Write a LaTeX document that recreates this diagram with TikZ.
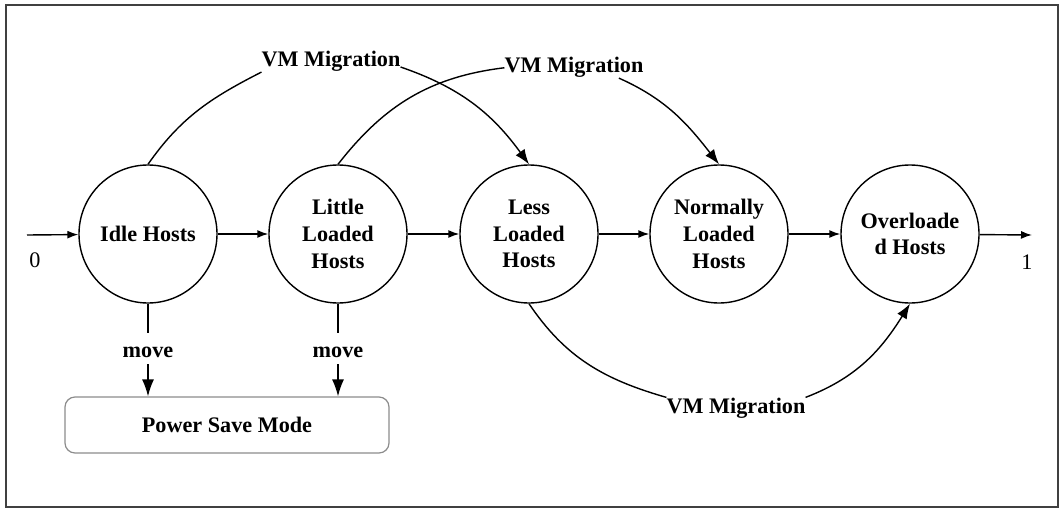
\documentclass[tikz,border=0pt]{standalone}
\usepackage{fontspec}
\setmainfont{LiberationSerif}[Extension=.ttf,UprightFont=*-Regular,BoldFont=*-Bold,ItalicFont=*-Italic,BoldItalicFont=*-BoldItalic]
\usetikzlibrary{arrows.meta}
\begin{document}
\begin{tikzpicture}[x=1pt,y=-1pt,
  host/.style={circle,draw,line width=1.4pt,minimum size=138pt,inner sep=0pt,align=center,
    font=\fontsize{22.2}{26.7}\selectfont\bfseries},
  lbl/.style={inner sep=0pt,font=\fontsize{22.2}{26.7}\selectfont\bfseries},
  num/.style={inner sep=0pt,font=\fontsize{22.2}{26.7}\selectfont},
  flow/.style={line width=1.4pt,-{Latex[length=11pt,width=8pt]}},
  mig/.style={line width=1.4pt,-{Latex[length=15pt,width=11pt]}},
  plain/.style={line width=1.4pt},
  movearr/.style={line width=1.4pt,-{Latex[length=17pt,width=12pt]}},
  psbox/.style={draw=black!45,line width=1.2pt,rounded corners=10pt,minimum width=324pt,
    minimum height=56pt,inner sep=0pt,font=\fontsize{22.2}{26.7}\selectfont\bfseries},
  movelbl/.style={inner xsep=0pt,inner ysep=7pt,text height=17pt,text depth=0pt,
    font=\fontsize{22.2}{26.7}\selectfont\bfseries}
]
\useasboundingbox (0,0) rectangle (1062,508);
\draw[line width=2pt,black!75] (6,5) rectangle (1058,506.5);

\node[host] (idle)   at (148,234) {Idle Hosts};
\node[host] (little) at (338,234) {Little\\Loaded\\Hosts};
\node[host] (less)   at (529,234) {Less\\Loaded\\Hosts};
\node[host] (normal) at (719,234) {Normally\\Loaded\\Hosts};
\node[host] (over)   at (910,234) {Overloade\\d Hosts};

\coordinate (in) at (27,235);
\coordinate (out) at (1032,235);
\node[num] (zero) at (35,260) {0};
\node[num] (one) at (1027,262) {1};

\draw[flow] (in) -- (idle);
\draw[flow] (idle) -- (little);
\draw[flow] (little) -- (less);
\draw[flow] (less) -- (normal);
\draw[flow] (normal) -- (over);
\draw[flow] (over) -- (out);

\node[psbox] (psm) at (227,425) {Power Save Mode};
\node[movelbl,anchor=base] (mv1) at (148,357) {move};
\node[movelbl,anchor=base] (mv2) at (338,357) {move};
\draw[plain] (idle.south) -- (mv1.north);
\draw[movearr] (mv1.south) -- (idle |- psm.north);
\draw[plain] (little.south) -- (mv2.north);
\draw[movearr] (mv2.south) -- (little |- psm.north);

\node[lbl,anchor=base] (lab1) at (331,67) {VM Migration};
\node[lbl,anchor=base] (lab2) at (574,73) {VM Migration};
\node[lbl,anchor=base] (lab3) at (736,413) {VM Migration};

\draw[plain] (idle.north) to[out=55,in=207] (lab1.south west);
\draw[mig] (lab1.base east) to[out=-19,in=126] (less.north);
\draw[plain] (little.north) to[out=52,in=187] (lab2.west);
\draw[mig] (lab2.-13) to[out=-24,in=128] (normal.north);
\draw[plain] (less.south) to[out=-56,in=164] (lab3.north west);
\draw[mig] (lab3.north east) to[out=21,in=238] (over.south);
\end{tikzpicture}
\end{document}
